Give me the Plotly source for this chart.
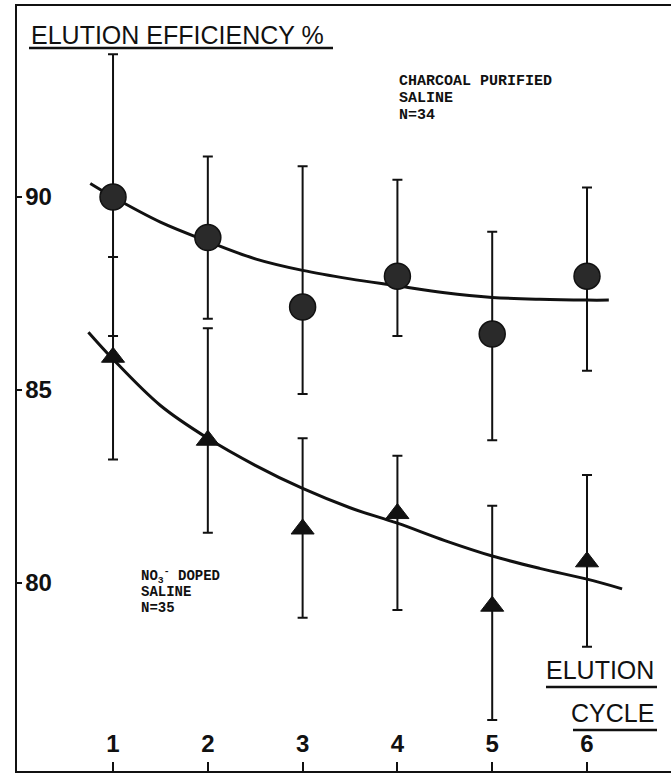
import plotly.graph_objects as go

# Elution cycles
cycles = [1, 2, 3, 4, 5, 6]

# Charcoal purified saline (N=34): mean and error-bar limits
charcoal_mean = [90.0, 88.95, 87.15, 87.95, 86.45, 87.95]
charcoal_hi = [93.7, 91.05, 90.8, 90.45, 89.1, 90.25]
charcoal_lo = [86.4, 86.85, 84.9, 86.4, 83.7, 85.5]

# NO3- doped saline (N=35): mean and error-bar limits
nitrate_mean = [85.85, 83.7, 81.4, 81.8, 79.4, 80.55]
nitrate_hi = [88.45, 86.6, 83.75, 83.3, 82.0, 82.8]
nitrate_lo = [83.2, 81.3, 79.1, 79.3, 76.45, 78.35]

# Hand-drawn trend curves through each series
charcoal_curve_x = [0.76, 1.0, 1.5, 2.0, 2.5, 3.0, 3.5, 4.0, 4.5, 5.0, 5.5, 6.0, 6.23]
charcoal_curve_y = [90.35, 90.0, 89.35, 88.85, 88.4, 88.1, 87.88, 87.7, 87.52, 87.4, 87.35, 87.33, 87.33]
nitrate_curve_x = [0.74, 1.0, 1.5, 2.0, 2.5, 3.0, 3.5, 4.0, 4.5, 5.0, 5.5, 6.0, 6.37]
nitrate_curve_y = [86.5, 85.8, 84.6, 83.75, 83.05, 82.45, 81.95, 81.55, 81.1, 80.7, 80.38, 80.1, 79.85]

x_ticks = [1, 2, 3, 4, 5, 6]
y_ticks = [80, 85, 90]

INK = "#111111"
SANS = "Liberation Sans, Arial, sans-serif"
MONO = "Liberation Mono, Courier New, monospace"

W, H = 671, 777
ML, MR, MT, MB = 17, 0, 6, 6


def px(x):
    return (x - ML) / (W - ML - MR)


def py(y):
    return (H - MB - y) / (H - MT - MB)


def err(mean, hi, lo):
    plus = [h - m for h, m in zip(hi, mean)]
    minus = [m - l for m, l in zip(mean, lo)]
    return dict(type="data", symmetric=False, array=plus, arrayminus=minus,
                color=INK, thickness=2, width=5)


fig = go.Figure()

fig.add_trace(go.Scatter(x=charcoal_curve_x, y=charcoal_curve_y, mode="lines",
                         line=dict(color=INK, width=3, shape="spline"),
                         hoverinfo="skip", showlegend=False))
fig.add_trace(go.Scatter(x=nitrate_curve_x, y=nitrate_curve_y, mode="lines",
                         line=dict(color=INK, width=3, shape="spline"),
                         hoverinfo="skip", showlegend=False))

fig.add_trace(go.Scatter(x=cycles, y=charcoal_mean, mode="markers",
                         error_y=err(charcoal_mean, charcoal_hi, charcoal_lo),
                         marker=dict(symbol="circle", size=26, color="#2a2a2a",
                                     line=dict(color=INK, width=1.5)),
                         name="Charcoal purified saline", showlegend=False))
fig.add_trace(go.Scatter(x=cycles, y=nitrate_mean, mode="markers",
                         error_y=err(nitrate_mean, nitrate_hi, nitrate_lo),
                         marker=dict(symbol="triangle-up", size=20, color=INK,
                                     line=dict(color=INK, width=1)),
                         name="NO3- doped saline", showlegend=False))

annotations = [
    dict(x=px(29), y=py(35), text="ELUTION EFFICIENCY %", xanchor="left",
         font=dict(family=SANS, size=25, color=INK)),
    dict(x=px(656), y=py(670), text="ELUTION", xanchor="right",
         font=dict(family=SANS, size=25, color=INK)),
    dict(x=px(656), y=py(713), text="CYCLE", xanchor="right",
         font=dict(family=SANS, size=25, color=INK)),
]

charcoal_label = ["CHARCOAL PURIFIED", "SALINE", "N=34"]
for i, line in enumerate(charcoal_label):
    annotations.append(dict(x=px(397), y=py(82 + 16.5 * i), text=line, xanchor="left",
                            font=dict(family=MONO, size=15, color=INK, weight="bold")))

nitrate_label = ["NO<sub>3</sub><sup>-</sup> DOPED", "SALINE", "N=35"]
for i, line in enumerate(nitrate_label):
    annotations.append(dict(x=px(139), y=py(576 + 16 * i), text=line, xanchor="left",
                            font=dict(family=MONO, size=14, color=INK, weight="bold")))

for a in annotations:
    a.update(xref="paper", yref="paper", yanchor="middle", showarrow=False)

underlines = [(29, 333, 48), (546, 657, 687), (573, 657, 730)]
shapes = [dict(type="line", xref="paper", yref="paper", x0=px(a), x1=px(b),
               y0=py(y), y1=py(y), line=dict(color=INK, width=2.5))
          for a, b, y in underlines]

fig.update_layout(
    width=W, height=H,
    margin=dict(l=ML, r=MR, t=MT, b=MB),
    paper_bgcolor="white", plot_bgcolor="white",
    annotations=annotations, shapes=shapes,
    showlegend=False,
    xaxis=dict(range=[-0.013, 6.886], tickvals=x_ticks,
               ticktext=[str(t) for t in x_ticks],
               showgrid=False, zeroline=False,
               showline=True, linecolor=INK, linewidth=2, mirror=True,
               ticks="inside", ticklen=9, tickwidth=2, tickcolor=INK,
               ticklabelposition="inside", ticklabelstandoff=7,
               tickfont=dict(family=SANS, size=24, color=INK, weight="bold")),
    yaxis=dict(range=[75.13, 94.95], tickvals=y_ticks,
               ticktext=[str(t) for t in y_ticks],
               showgrid=False, zeroline=False,
               showline=True, linecolor=INK, linewidth=2,
               ticks="inside", ticklen=5, tickwidth=2, tickcolor=INK,
               ticklabelposition="inside", ticklabelstandoff=5,
               tickfont=dict(family=SANS, size=24, color=INK, weight="bold")),
)

fig.write_html("out.html")
